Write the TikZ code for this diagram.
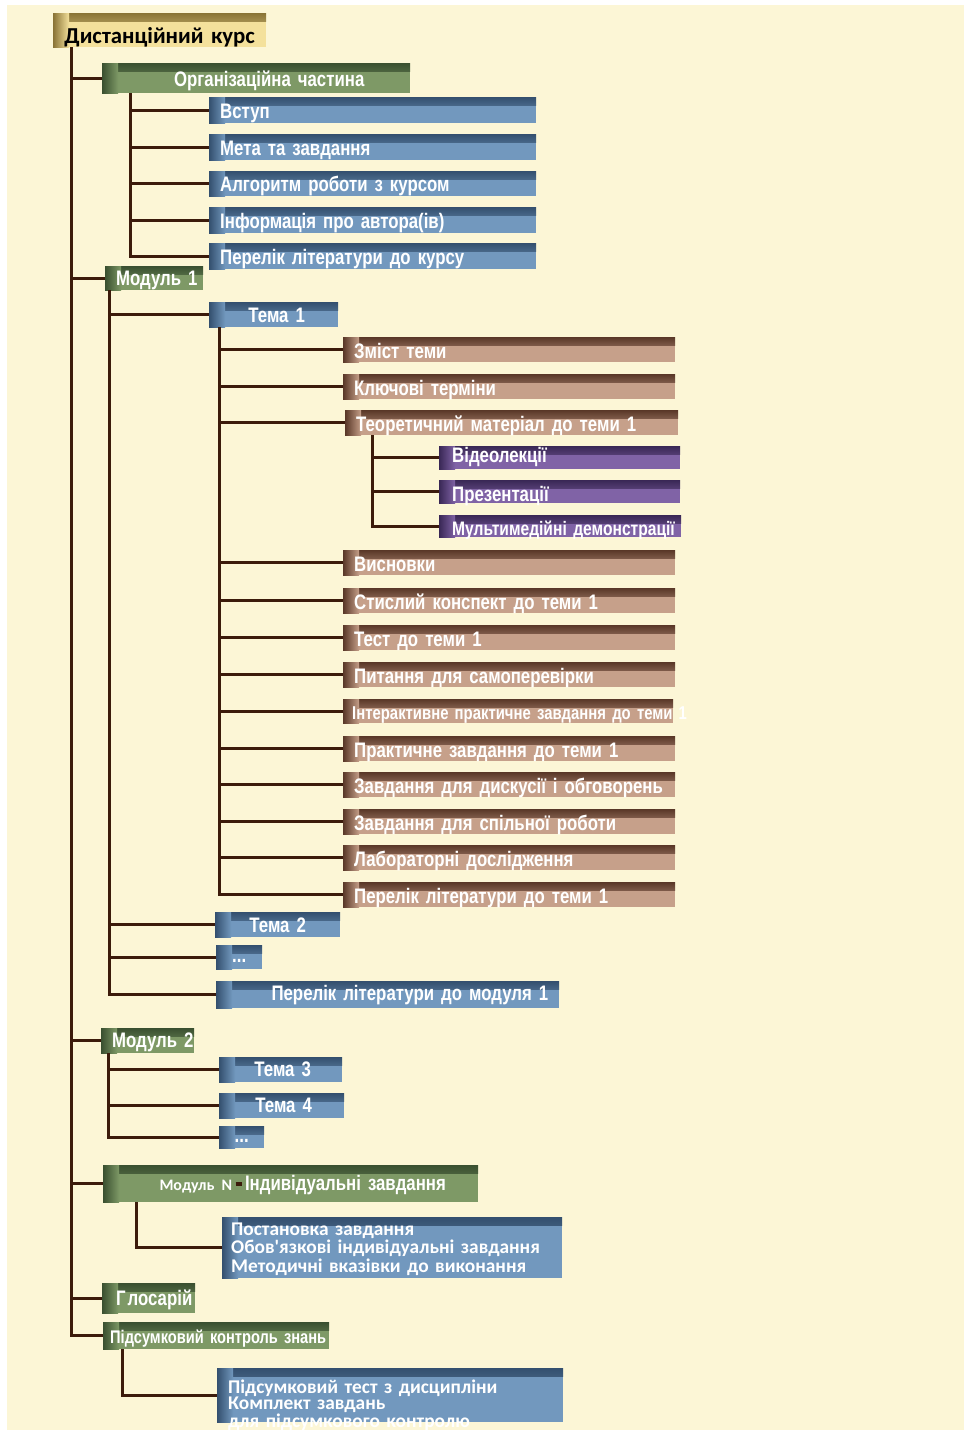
\documentclass[tikz,border=0pt]{standalone}
\usepackage{fontspec}
\newfontfamily\narrowfont[FakeStretch=0.80]{Liberation Sans}
\newfontfamily\calfont{Carlito}

\definecolor{paper}{HTML}{FCF6D6}
\definecolor{wire}{HTML}{3C1B0B}
\definecolor{greenL}{HTML}{7E9966}
\definecolor{greenD}{HTML}{3A5030}
\definecolor{blueL}{HTML}{7298BE}
\definecolor{blueD}{HTML}{34506F}
\definecolor{brownL}{HTML}{C6A08A}
\definecolor{brownD}{HTML}{5A3828}
\definecolor{purpL}{HTML}{8063A6}
\definecolor{purpD}{HTML}{3A2856}
\definecolor{goldL}{HTML}{F4E19C}
\definecolor{goldD}{HTML}{8A7436}

\tikzset{
  panel/.style 2 args={rectangle, anchor=north west, inner ysep=0pt, inner xsep=11pt,
    fill=#1, text=white, align=left,
    font=\narrowfont\bfseries\fontsize{21}{23}\selectfont,
    path picture={
      \shade[top color=#2, bottom color=#1] (path picture bounding box.north west)
        rectangle ([yshift=-8pt]path picture bounding box.north east);
      \shade[left color=#2, right color=#1] (path picture bounding box.south west)
        rectangle ([xshift=16pt]path picture bounding box.north west);
    }},
  oneline/.style={execute at begin node={\leavevmode\hbox\bgroup},
    execute at end node={\egroup}},
  greenbox/.style={panel={greenL}{greenD}, oneline},
  bluebox/.style={panel={blueL}{blueD}, oneline},
  brownbox/.style={panel={brownL}{brownD}, oneline},
  purplebox/.style={panel={purpL}{purpD}, oneline, inner xsep=13pt},
  goldbox/.style={panel={goldL}{goldD}, oneline, text=black, align=center,
    font=\calfont\bfseries\fontsize{22.8}{25}\selectfont},
  listbox/.style={panel={blueL}{blueD},
    font=\calfont\bfseries\fontsize{19.4}{#1}\selectfont},
  fsize/.style={font=\narrowfont\bfseries\fontsize{#1}{#1}\selectfont},
  wh/.style n args={3}{text width=#1pt, text height=#2pt, text depth=#3pt},
  wire/.style={draw=wire, line width=3pt},
}

\begin{document}
\begin{tikzpicture}[x=1pt, y=-1pt]
\useasboundingbox (0,0) rectangle (964,1430);
\fill[paper] (7,5) rectangle (964,1430);

% root
\node[goldbox, wh={191}{30}{4}] (course) at (53,13) {Дистанційний курс};

% organisational part
\node[greenbox, wh={286}{23}{7}, align=center] (org) at (102,63) {\hspace*{26pt}Організаційна частина};
\node[bluebox, wh={305}{21}{5}] (intro) at (209,97) {Вступ};
\node[bluebox, wh={305}{21}{5}] (goal) at (209,134) {Мета та завдання};
\node[bluebox, wh={305}{20}{5}] (algo) at (209,171) {Алгоритм роботи з курсом};
\node[bluebox, wh={305}{21}{5}] (author) at (209,207) {Інформація про автора(ів)};
\node[bluebox, wh={305}{21}{5}] (litc) at (209,243) {Перелік літератури до курсу};

% module 1
\node[greenbox, wh={76}{19}{5}] (mod1) at (105,266) {Модуль 1};
\node[bluebox, wh={107}{20}{5}, align=center] (t1) at (209,302) {\hspace*{6pt}Тема 1};

\node[brownbox, wh={310}{21}{4}] (b1) at (343,337) {Зміст теми};
\node[brownbox, wh={310}{21}{4}] (b2) at (343,374) {Ключові терміни};
\node[brownbox, wh={311}{21}{4}] (b3) at (345,410) {Теоретичний матеріал до теми 1};
\node[purplebox, wh={215}{16}{7}] (p1) at (439,446) {Відеолекції};
\node[purplebox, wh={215}{21}{2}] (p2) at (439,480) {Презентації};
\node[purplebox, wh={216}{20}{2}, fsize=19.5] (p3) at (439,515) {Мультимедійні демонстрації};
\node[brownbox, wh={310}{21}{4}] (b4) at (343,550) {Висновки};
\node[brownbox, wh={310}{21}{4}] (b5) at (343,588) {Стислий конспект до теми 1};
\node[brownbox, wh={310}{21}{4}] (b6) at (343,625) {Тест до теми 1};
\node[brownbox, wh={310}{21}{4}] (b7) at (343,662) {Питання для самоперевірки};
\node[brownbox, wh={312}{20}{4}, inner xsep=9pt, fsize=18.6] (b8) at (343,699)
  {Інтерактивне практичне завдання до теми\rlap{ \textcolor{white}{1}}};
\node[brownbox, wh={310}{21}{4}] (b9) at (343,736) {Практичне завдання до теми 1};
\node[brownbox, wh={310}{21}{4}] (b10) at (343,772) {Завдання для дискусії і обговорень};
\node[brownbox, wh={310}{21}{4}] (b11) at (343,809) {Завдання для спільної роботи};
\node[brownbox, wh={310}{21}{4}] (b12) at (343,845) {Лабораторні дослідження};
\node[brownbox, wh={310}{21}{4}] (b13) at (343,882) {Перелік літератури до теми 1};

\node[bluebox, wh={103}{20}{5}, align=center] (t2) at (215,912) {Тема 2};
\node[bluebox, wh={24}{17}{7}, align=center] (d1) at (216,945) {...};
\node[bluebox, wh={321}{19}{8}, align=right] (litm1) at (216,981) {Перелік літератури до модуля 1};

% module 2
\node[greenbox, wh={71}{19}{6}] (mod2) at (101,1028) {Модуль 2};
\node[bluebox, wh={101}{19}{6}, align=center] (t3) at (219,1057) {\hspace*{4pt}Тема 3};
\node[bluebox, wh={103}{19}{6}, align=center] (t4) at (219,1093) {\hspace*{4pt}Тема 4};
\node[bluebox, wh={23}{16}{6}, align=center] (d2) at (219,1126) {...};

% module N
\node[greenbox, wh={353}{25}{12}, align=center] (modn) at (103,1165)
  {\hspace*{24pt}{\calfont\bfseries\fontsize{16}{18}\selectfont Модуль N}\,\textcolor{wire}{\rule[4pt]{6pt}{4pt}}\,Індивідуальні завдання};
\node[listbox=18.5pt, wh={322}{18}{43}, inner xsep=9pt] (tasks) at (222,1217)
  {Постановка завдання\\Обов'язкові індивідуальні завдання\\Методичні вказівки до виконання};

% glossary and final control
\node[greenbox, wh={65}{22}{8}, inner xsep=14pt] (gloss) at (102,1283) {Г\kern2pt лосарій};
\node[greenbox, wh={212}{21}{6}, inner xsep=7pt, fsize=18.3] (final) at (103,1322) {Підсумковий контроль знань};
\node[listbox=13pt, wh={324}{25}{29}] (exam) at (217,1368)
  {Підсумковий тест з дисципліни\\Комплект завдань\\для підсумкового контролю};

% main trunk
\foreach \n in {org,mod1,mod2,modn,gloss,final}
  \draw[wire] ([xshift=18pt]course.south west) |- (\n.west);
% organisational branch
\foreach \n in {intro,goal,algo,author,litc}
  \draw[wire] ([xshift=28pt]org.south west) |- (\n.west);
% module 1 branch
\foreach \n in {t1,t2,d1,litm1}
  \draw[wire] ([xshift=4pt]mod1.south west) |- (\n.west);
% topic 1 branch
\foreach \n in {b1,b2,b3,b4,b5,b6,b7,b8,b9,b10,b11,b12,b13}
  \draw[wire] ([xshift=10pt]t1.south west) |- (\n.west);
% theory material branch
\foreach \n in {p1,p2,p3}
  \draw[wire] ([xshift=27pt]b3.south west) |- (\n.west);
% module 2 branch
\foreach \n in {t3,t4,d2}
  \draw[wire] ([xshift=7pt]mod2.south west) |- (\n.west);
% module N and final control
\draw[wire] ([xshift=33pt]modn.south west) |- (tasks.west);
\draw[wire] ([xshift=19pt]final.south west) |- (exam.west);
\end{tikzpicture}
\end{document}
